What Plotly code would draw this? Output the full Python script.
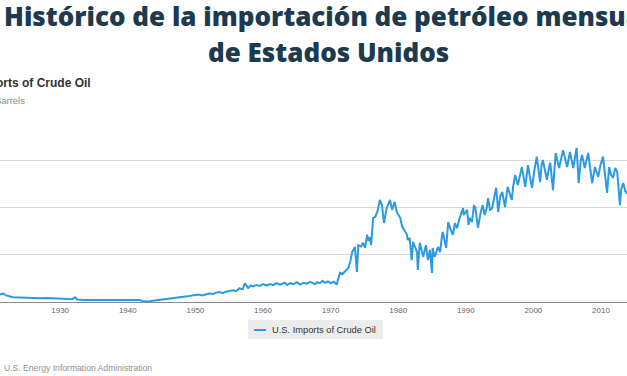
import plotly.graph_objects as go

# ---- data ----
years = [
    1920.0, 1920.5, 1921.1, 1921.6, 1922.0, 1922.5, 1923.0, 1924.0, 1925.0, 1926.0,
    1927.0, 1928.0, 1929.0, 1930.0, 1931.0, 1931.8, 1932.2, 1932.5, 1933.5, 1935.0,
    1936.5, 1938.0, 1939.5, 1941.0, 1941.8, 1942.2, 1943.0, 1943.7, 1944.5, 1945.5,
    1946.5, 1947.7, 1948.8, 1949.5, 1950.5, 1951.0, 1951.5, 1952.0, 1952.6, 1953.1,
    1953.6, 1954.0, 1954.5, 1955.0, 1955.6, 1956.0, 1956.5, 1957.0, 1957.3, 1957.8,
    1958.2, 1958.5, 1959.0, 1959.5, 1960.0, 1960.6, 1961.0, 1961.5, 1962.0, 1962.5,
    1963.2, 1963.6, 1964.0, 1964.5, 1965.0, 1965.5, 1966.0, 1966.5, 1967.0, 1967.7,
    1968.0, 1968.4, 1968.8, 1969.2, 1969.6, 1970.0, 1970.5, 1970.9,
    1971.4, 1971.8, 1972.1, 1972.6, 1972.9, 1973.2, 1973.6, 1973.9, 1974.1, 1974.5,
    1974.8, 1975.1, 1975.4, 1975.6, 1975.8, 1976.0, 1976.3, 1976.6, 1976.9, 1977.3,
    1977.6, 1977.9, 1978.3, 1978.8, 1979.1, 1979.5, 1979.8, 1980.3, 1980.6, 1981.0,
    1981.3, 1981.4, 1981.7, 1982.0, 1982.2, 1982.8, 1982.9, 1983.2, 1983.7, 1984.1,
    1984.4, 1984.7, 1985.0, 1985.1, 1985.4, 1985.9, 1986.2, 1986.5, 1986.6, 1987.1,
    1987.4, 1987.8, 1988.1, 1988.4, 1988.7, 1989.1, 1989.6, 1989.7, 1990.2, 1990.4,
    1990.6, 1990.9, 1991.2, 1991.4, 1991.8, 1992.2, 1992.5, 1992.8, 1993.1, 1993.3,
    1993.6, 1993.9, 1994.2, 1994.5, 1994.8, 1995.1, 1995.4, 1995.8, 1996.2, 1996.5,
    1996.8, 1997.0, 1997.3, 1997.7, 1998.0, 1998.3, 1998.8, 1999.0, 1999.2, 1999.5,
    1999.8, 2000.2, 2000.5, 2001.0, 2001.2, 2001.4, 2002.0, 2002.3, 2002.5, 2002.9,
    2003.3, 2003.8, 2004.1, 2004.4, 2005.0, 2005.2, 2005.4, 2005.9, 2006.1, 2006.4,
    2006.7, 2007.0, 2007.2, 2007.6, 2008.1, 2008.4, 2008.7, 2009.1, 2009.6, 2009.9,
    2010.3, 2010.9, 2011.2, 2011.5, 2011.8, 2012.1, 2012.4, 2012.8, 2013.0, 2013.3,
    2013.6, 2013.8, 2014.1,
]
imports_kbbl = [
    11, 13, 15, 18, 14, 12, 10, 9.5, 8.5, 9,
    8, 8.5, 8, 7.5, 6.5, 6, 10, 5.5, 4.5, 4.5,
    5, 4.5, 4.5, 5, 4.5, 1.5, 0.8, 2.5, 4, 5.5,
    7, 9, 12, 14, 16, 14, 15.5, 18, 17, 20,
    21, 19, 22, 24, 25, 23, 29, 27, 40, 30,
    35, 33, 36, 34, 38, 35, 38, 36, 40, 37,
    41, 36, 40, 38, 42, 37, 41, 39, 43, 38,
    42, 40, 45, 41, 44, 40, 43, 37,
    62, 60, 64, 72, 85, 106, 117, 64, 121, 118,
    126, 115, 143, 130, 138, 121, 179, 181, 191, 217,
    206, 168, 200, 217, 196, 213, 191, 179, 160, 149,
    143, 132, 136, 89, 128, 106, 68, 126, 96, 121,
    89, 111, 62, 115, 96, 117, 106, 143, 149, 115,
    170, 153, 143, 168, 157, 179, 200, 185, 196, 164,
    179, 170, 204, 202, 158, 190, 206, 185, 200, 221,
    195, 200, 225, 243, 191, 225, 234, 202, 245, 230,
    217, 245, 270, 249, 265, 287, 245, 270, 291, 265,
    243, 285, 309, 255, 290, 302, 260, 285, 296, 238,
    317, 285, 305, 323, 287, 305, 319, 285, 305, 328,
    253, 300, 313, 285, 317, 290, 253, 287, 266, 290,
    309, 232, 287, 270, 264, 285, 277, 206, 240, 253,
    235, 232, 240,
]
imports_kbbl = [v * 1000 for v in imports_kbbl]  # thousand barrels

tick_years = [1920, 1930, 1940, 1950, 1960, 1970, 1980, 1990, 2000, 2010]
tick_labels = [str(y) for y in tick_years]
y_ticks = [0, 100000, 200000, 300000, 400000]

series_name = "U.S. Imports of Crude Oil"
title_line1 = "Histórico de la importación de petróleo mensual"
title_line2 = "de Estados Unidos"
chart_title = "U.S. Imports of Crude Oil"
units = "Thousand Barrels"
credit = "U.S. Energy Information Administration"

# ---- figure ----
W, H = 627, 376
T, B = 113, 302  # plot area top / bottom in pixels
LINE = "#2b9ae0"


def px(x):
    return x / W


def py(y):
    return (B - y) / (B - T)


fig = go.Figure()
fig.add_trace(go.Scatter(
    x=years, y=imports_kbbl, mode="lines", name=series_name,
    line=dict(color=LINE, width=2), showlegend=False,
))

fig.update_layout(
    width=W, height=H,
    margin=dict(l=0, r=0, t=T, b=H - B, pad=0),
    paper_bgcolor="white", plot_bgcolor="white",
    xaxis=dict(
        range=[1921.1, 2013.85], tickvals=tick_years, ticktext=tick_labels,
        showgrid=False, zeroline=False, showline=True, linecolor="#8c8c8c",
        linewidth=1, ticks="", tickfont=dict(family="Liberation Sans", size=8, color="#666666"),
    ),
    yaxis=dict(
        range=[0, 402000], tickvals=y_ticks, showticklabels=False,
        showgrid=True, gridcolor="#d9d9d9", gridwidth=1, zeroline=False, ticks="",
    ),
    showlegend=False,
)

TITLE_FONT = dict(family="Open Sans", size=26, color="#1e3a4f", weight=800)
annotations = [
    dict(text=title_line1, x=px(327), y=py(15.5), xanchor="center",
         yanchor="middle", font=TITLE_FONT),
    dict(text=title_line2, x=px(328), y=py(51.5), xanchor="center",
         yanchor="middle", font=TITLE_FONT),
    dict(text="<b>" + chart_title + "</b>", x=px(93), y=py(82.5), xanchor="right",
         yanchor="middle", font=dict(family="Liberation Sans", size=12, color="#333333")),
    dict(text=units, x=px(26.5), y=py(100.5), xanchor="right", yanchor="middle",
         font=dict(family="Liberation Sans", size=9.5, color="#888888")),
    dict(text=series_name, x=px(270), y=py(330), xanchor="left", yanchor="middle",
         font=dict(family="Liberation Sans", size=9.3, color="#333333")),
    dict(text=credit, x=px(2), y=py(368), xanchor="left", yanchor="middle",
         font=dict(family="Liberation Sans", size=8.6, color="#909090")),
]
for a in annotations:
    a.update(xref="paper", yref="paper", showarrow=False)
fig.update_layout(annotations=annotations)

# legend box (drawn)
fig.add_shape(type="rect", xref="paper", yref="paper",
              x0=px(248), x1=px(383), y0=py(339), y1=py(320),
              fillcolor="#ececec", line=dict(width=0), layer="below")
fig.add_shape(type="line", xref="paper", yref="paper",
              x0=px(254), x1=px(266), y0=py(330), y1=py(330),
              line=dict(color=LINE, width=2))

fig.write_html("out.html", config={"displayModeBar": False})

# remove the browser's default page margin so the figure sits at (0, 0)
with open("out.html", encoding="utf-8") as f:
    html = f.read()
html = html.replace("<head>", "<head><style>html,body{margin:0;padding:0;overflow:hidden}</style>", 1)
with open("out.html", "w", encoding="utf-8") as f:
    f.write(html)
